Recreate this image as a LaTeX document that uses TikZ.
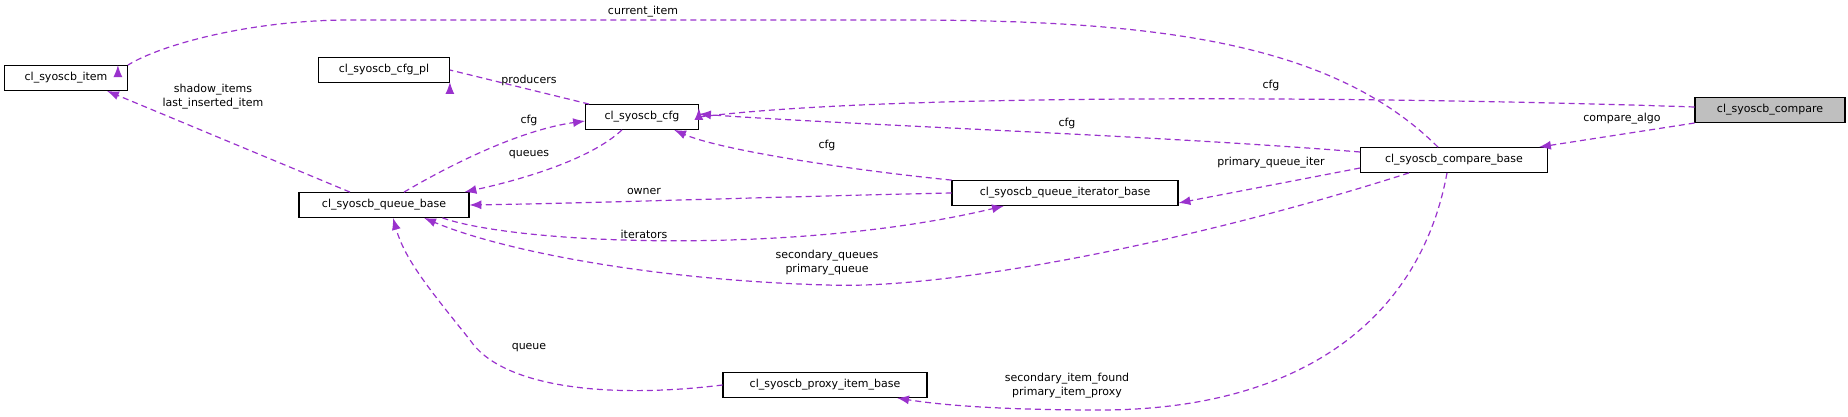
\documentclass[tikz,border=0pt]{standalone}
\usepackage{fontspec}
\setmainfont{DejaVu Sans}
\usetikzlibrary{arrows.meta}
\definecolor{purp}{HTML}{9A32CD}
\tikzset{
  cls/.style={draw=black,line width=0.8pt,fill=white,inner sep=0,minimum height=25pt,font=\fontsize{11}{13}\selectfont},
  lbl/.style={inner sep=0,align=center,font=\fontsize{11}{14}\selectfont},
  rel/.style={draw=purp,line width=0.6pt,dash pattern=on 3pt off 2pt,-{Latex[length=6pt,width=4.5pt]}}
}
\begin{document}
\begin{tikzpicture}[x=1pt,y=-1pt,scale=0.5,every node/.append style={transform shape}]
  \useasboundingbox (0,0) rectangle (1848,417);

  \node[cls,minimum width=123pt] (item) at (66,78) {cl\_syoscb\_item};
  \node[cls,minimum width=131pt] (cfgpl) at (384,70) {cl\_syoscb\_cfg\_pl};
  \node[cls,minimum width=113pt] (cfg) at (642,117) {cl\_syoscb\_cfg};
  \node[cls,minimum width=170pt] (qbase) at (384,205) {cl\_syoscb\_queue\_base};
  \node[cls,minimum width=226pt] (iter) at (1065,193) {cl\_syoscb\_queue\_iterator\_base};
  \node[cls,minimum width=187pt] (cmpbase) at (1454,160) {cl\_syoscb\_compare\_base};
  \node[cls,minimum width=150pt,fill=black!25] (cmp) at (1770,110) {cl\_syoscb\_compare};
  \node[cls,minimum width=204pt] (proxy) at (825,385) {cl\_syoscb\_proxy\_item\_base};

  % relations
  \draw[rel] (cmpbase.north) ++(-16,0) .. controls (1330,40) and (1150,20) .. (900,20)
    -- (350,20) .. controls (250,20) and (160,45) .. (item.north east) ++(-10,0);
  \draw[rel] (cmp.west) ++(0,-3) .. controls (1400,97) and (900,92) .. (cfg.east) ++(0,-9);
  \draw[rel] (cmp.west) ++(0,13) -- ([xshift=-9pt]cmpbase.north east);
  \draw[rel] (cfg.north west) ++(4,0) -- (cfgpl.east) ++(0,12);
  \draw[rel] (qbase.north) ++(-34,0) -- ([xshift=-21pt]item.south east);
  \draw[rel] (qbase.north) ++(20,0) .. controls (450,165) and (520,130) .. ([yshift=-4pt]cfg.west);
  \draw[rel] (cfg.south) ++(-20,0) .. controls (590,160) and (520,180) .. ([xshift=-5pt]qbase.north east);
  \draw[rel] (cmpbase.west) ++(0,-8) .. controls (1150,135) and (850,125) .. ([yshift=3pt]cfg.east);
  \draw[rel] (iter.north west) .. controls (850,170) and (720,150) .. ([xshift=32pt]cfg.south);
  \draw[rel] (cmpbase.west) ++(0,8) -- ([yshift=-10pt]iter.east);
  \draw[rel] (iter.west) .. controls (800,196) and (600,203) .. (qbase.east);
  \draw[rel] (qbase.south east) ++(-27,0) .. controls (520,245) and (800,255) .. ([xshift=-61pt]iter.south);
  \draw[rel] (cmpbase.south) ++(-45,0) .. controls (1200,240) and (950,290) .. (827,285)
    .. controls (650,280) and (500,250) .. ([xshift=40pt]qbase.south);
  \draw[rel] (proxy.west) .. controls (600,400) and (500,385) .. (470,340)
    .. controls (430,290) and (405,260) .. ([xshift=9pt]qbase.south);
  \draw[rel] (cmpbase.south) ++(-7,0) .. controls (1420,320) and (1300,410) .. (1100,410)
    .. controls (1000,410) and (940,405) .. ([xshift=72pt]proxy.south);

  % labels
  \node[lbl] (l1) at (643,12) {current\_item};
  \node[lbl] (l2) at (1271,85) {cfg};
  \node[lbl] (l3) at (1622,119) {compare\_algo};
  \node[lbl] (l4) at (529,80) {producers};
  \node[lbl] (l5) at (213,97) {shadow\_items\\last\_inserted\_item};
  \node[lbl] (l6) at (529,120) {cfg};
  \node[lbl] (l7) at (529,155) {queues};
  \node[lbl] (l8) at (1067,123) {cfg};
  \node[lbl] (l9) at (827,145) {cfg};
  \node[lbl] (l10) at (1271,163) {primary\_queue\_iter};
  \node[lbl] (l11) at (644,191) {owner};
  \node[lbl] (l12) at (644,234) {iterators};
  \node[lbl] (l13) at (827,263) {secondary\_queues\\primary\_queue};
  \node[lbl] (l14) at (529,348) {queue};
  \node[lbl] (l15) at (1067,386) {secondary\_item\_found\\primary\_item\_proxy};
\end{tikzpicture}
\end{document}
